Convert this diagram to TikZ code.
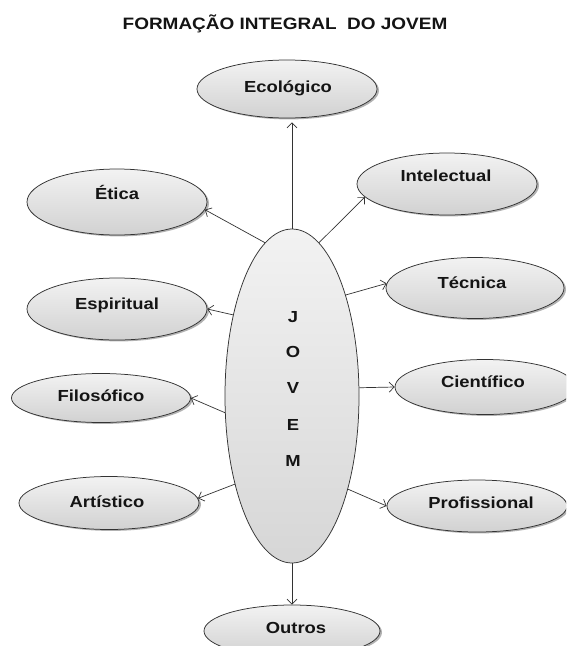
\documentclass[tikz,border=0pt]{standalone}
\usepackage{fontspec}
\newfontfamily\lblfont[FakeStretch=1.15]{Liberation Sans}
\usetikzlibrary{shapes.geometric,shadows,arrows.meta}
\begin{document}
\begin{tikzpicture}[x=1pt,y=-1pt,
  bubble/.style={ellipse, draw=black!80, line width=0.75pt, top color=gray!10, bottom color=gray!36,
    inner sep=0pt, drop shadow={shadow xshift=2pt, shadow yshift=-1.4pt, fill=black!60}},
  bigbubble/.style={ellipse, draw=black!80, line width=0.75pt, top color=gray!10, bottom color=gray!32, inner sep=0pt},
  lbl/.style={font=\lblfont\bfseries\fontsize{16}{18}\selectfont, text=black!92, inner sep=0pt,
    text height=11.5pt, text depth=0pt},
  conn/.style={draw=black!80, line width=0.7pt, -{Straight Barb[length=5pt,width=10pt]}}]
\clip (0,0) rectangle (566,646);
\fill[white] (0,0) rectangle (566,646);

\node[lbl, font=\lblfont\bfseries\fontsize{16.5}{18}\selectfont] (title) at (285,24) {FORMAÇÃO INTEGRAL~~DO JOVEM};

% central ellipse
\node[bigbubble, minimum width=134pt, minimum height=334pt] (jov) at (292,396) {};
\node[lbl] (jJ) at (293,317) {J};
\node[lbl] (jO) at (293,352) {O};
\node[lbl] (jV) at (293,388) {V};
\node[lbl] (jE) at (293,425) {E};
\node[lbl] (jM) at (293,461) {M};

% satellite ellipses
\node[bubble, minimum width=180pt, minimum height=58pt] (eco) at (287,89) {};
\node[bubble, minimum width=180pt, minimum height=62pt] (int) at (447,184) {};
\node[bubble, minimum width=180pt, minimum height=66pt] (eti) at (117,202) {};
\node[bubble, minimum width=180pt, minimum height=62pt] (esp) at (117,309) {};
\node[bubble, minimum width=178pt, minimum height=61pt] (tec) at (475,288) {};
\node[bubble, minimum width=180pt, minimum height=55pt] (cie) at (485,387) {};
\node[bubble, minimum width=179pt, minimum height=49pt] (fil) at (101,398) {};
\node[bubble, minimum width=180pt, minimum height=53pt] (art) at (109,503) {};
\node[bubble, minimum width=180pt, minimum height=52pt] (pro) at (477,506) {};
\node[bubble, minimum width=176pt, minimum height=52pt] (out) at (292,631) {};

\node[lbl] (ecoT) at (288,87) {Ecológico};
\node[lbl] (intT) at (446,176) {Intelectual};
\node[lbl] (etiT) at (117,194) {Ética};
\node[lbl] (espT) at (117,304) {Espiritual};
\node[lbl] (tecT) at (472,283) {Técnica};
\node[lbl] (cieT) at (483,382) {Científico};
\node[lbl] (filT) at (101,396) {Filosófico};
\node[lbl] (artT) at (107,502) {Artístico};
\node[lbl] (proT) at (481,503) {Profissional};
\node[lbl] (outT) at (296,628) {Outros};

% connectors
\draw[conn, shorten >=4pt] (jov.north) -- (jov.north |- eco.south);
\draw[conn] (jov.80.7) -- (int.189.6);
\draw[conn] (jov.100.7) -- (eti.-5);
\draw[conn] (jov.62.1) -- (tec.177);
\draw[conn] (jov.126.8) -- (esp.east);
\draw[conn] (jov.7.7) -- (cie.west);
\draw[conn] (jov.194.2) -- (fil.east);
\draw[conn] (jov.-59.5) -- (pro.west);
\draw[conn] (jov.237.9) -- (art.3.8);
\draw[conn] (jov.south) -- (out.north);
\end{tikzpicture}
\end{document}
